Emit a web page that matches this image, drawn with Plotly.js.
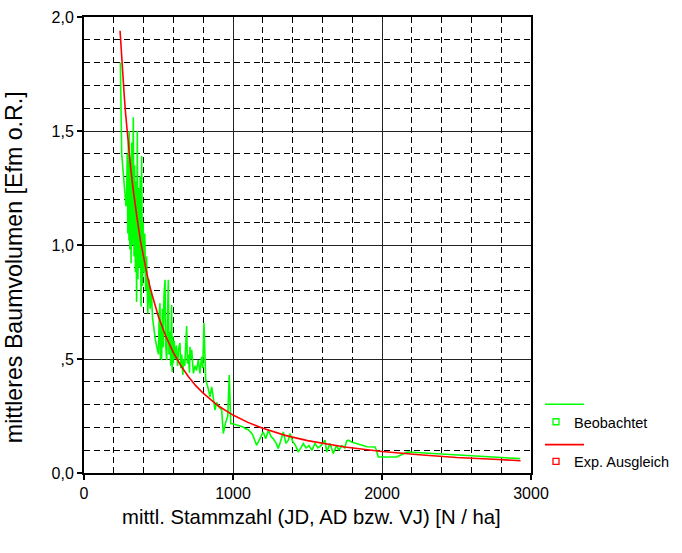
<!DOCTYPE html>
<html>
<head>
<meta charset="utf-8">
<script src="https://cdn.plot.ly/plotly-3.0.1.min.js"></script>
<style>
html,body{margin:0;padding:0;background:#fff;}
#chart{width:682px;height:553px;}
</style>
</head>
<body>
<div id="chart"></div>
<script>
// Observed values (Beobachtet)
const obsX = [244,248,253,258,264,270,276,282,286,290,294,298,302,304,308,312,316,320,324,328,331,336,340,345,350,353,358,362,367,372,377,383,387,392,397,402,408,414,420,428,436,444,452,
  460,470,480,490,500,505,510,513,518,521,526,531,537,544,548,555,560,566,570,576,582,588,592,596,599,605,612,620,628,636,644,650,656,663,670,676,683,689,694,700,708,711,716,723,734,745,755,767,778,789,797,805,817,830,846,857,868,879,890,905,924,935,950,965,975,985,1002,1030,1069,1081,1103,1130,1159,1180,1203,1220,1237,1255,1270,1290,1304,1320,1338,1355,1371,1383,1400,1420,1438,1455,1472,1490,1510,1530,1550,1570,1590,1617,1629,1640,1651,1673,1695,1710,1730,1750,1763,1774,1800,1850,1900,1953,1963,1975,1998,2040,2098,2130,2170,2926];
const obsY = [1.80,1.60,1.40,1.36,1.30,1.25,1.22,1.17,1.19,1.40,1.05,1.45,1.02,1.50,0.98,1.38,0.92,1.45,1.00,1.20,1.56,0.95,1.35,0.88,1.28,0.75,1.50,0.85,1.25,0.90,1.30,0.73,1.39,0.82,1.10,0.88,1.05,0.80,0.95,0.70,0.85,0.72,0.80,
  0.68,0.62,0.58,0.55,0.52,0.70,0.745,0.50,0.65,0.495,0.72,0.55,0.78,0.847,0.56,0.495,0.66,0.847,0.52,0.62,0.47,0.737,0.444,0.60,0.48,0.58,0.50,0.56,0.47,0.55,0.57,0.46,0.52,0.43,0.50,0.47,0.56,0.645,0.48,0.52,0.44,0.554,0.50,0.54,0.437,0.47,0.45,0.495,0.437,0.51,0.46,0.657,0.408,0.38,0.334,0.378,0.33,0.276,0.31,0.29,0.276,0.173,0.22,0.25,0.43,0.217,0.215,0.21,0.202,0.195,0.19,0.17,0.122,0.15,0.18,0.15,0.188,0.16,0.15,0.13,0.107,0.14,0.18,0.13,0.144,0.173,0.14,0.12,0.092,0.11,0.129,0.11,0.12,0.10,0.13,0.11,0.12,0.144,0.092,0.11,0.129,0.085,0.122,0.10,0.12,0.11,0.141,0.144,0.135,0.125,0.115,0.114,0.10,0.070,0.070,0.072,0.070,0.080,0.092,0.063];

// Fitted values (Exp. Ausgleich)
const fitX = [242,250,260,270,280,290,300,315,330,345,360,380,400,425,450,475,500,550,600,650,700,750,800,900,1000,1100,1200,1350,1500,1750,2000,2250,2500,2750,2930];
const fitY = [1.94,1.85,1.75,1.656,1.57,1.495,1.425,1.328,1.243,1.166,1.10,1.015,0.942,0.865,0.797,0.738,0.685,0.598,0.528,0.471,0.423,0.383,0.350,0.295,0.254,0.222,0.196,0.165,0.142,0.114,0.094,0.080,0.068,0.060,0.054];

const yTickVals = [0, 0.5, 1.0, 1.5, 2.0];
const yTickText = ["0,0", ",5", "1,0", "1,5", "2,0"];
const xTickVals = [0, 1000, 2000, 3000];
const xTickText = ["0", "1000", "2000", "3000"];
const seriesNames = ["Beobachtet", "Exp. Ausgleich"];
const seriesColors = ["#00ff00", "#ff0000"];
const xTitle = 'mittl. Stammzahl (JD, AD bzw. VJ) [N / ha]';
const yTitle = 'mittleres Baumvolumen [Efm o.R.]';

const FONT = "Liberation Sans, Arial, sans-serif";

const traces = [
  {x: obsX, y: obsY, type: 'scatter', mode: 'lines', name: seriesNames[0],
   line: {color: seriesColors[0], width: 1.6}},
  {x: fitX, y: fitY, type: 'scatter', mode: 'lines', name: seriesNames[1],
   line: {color: seriesColors[1], width: 1.6}}
];

// helpers for placement in paper coords
const L = 84, R = 531, T = 17, B = 472.7;
const px = v => (v - L) / (R - L);
const py = v => (B - v) / (B - T);

const shapes = [];
const annotations = [];
const legendRows = [{lineY: 404, boxY: 421.5}, {lineY: 444.3, boxY: 461}];
legendRows.forEach((r, i) => {
  shapes.push({type: 'line', xref: 'paper', yref: 'paper', x0: px(545), x1: px(584), y0: py(r.lineY), y1: py(r.lineY),
    line: {color: seriesColors[i], width: 1.6}});
  shapes.push({type: 'rect', xref: 'paper', yref: 'paper', x0: px(553), x1: px(559), y0: py(r.boxY + 3), y1: py(r.boxY - 3),
    line: {color: seriesColors[i], width: 1.3}, fillcolor: 'rgba(0,0,0,0)'});
  annotations.push({xref: 'paper', yref: 'paper', x: px(572), y: py(r.boxY + 1), xanchor: 'left', yanchor: 'middle',
    text: seriesNames[i], showarrow: false, font: {family: FONT, size: 14.5, color: '#000'}});
});
// axis titles
annotations.push({xref: 'paper', yref: 'paper', x: px(311.5), y: py(517), xanchor: 'center', yanchor: 'middle',
  text: xTitle, showarrow: false, font: {family: FONT, size: 20.3, color: '#000'}});
annotations.push({xref: 'paper', yref: 'paper', x: px(14), y: py(267), xanchor: 'center', yanchor: 'middle', textangle: -90,
  text: yTitle, showarrow: false, font: {family: FONT, size: 23.2, color: '#000'}});

const layout = {
  width: 682, height: 553,
  margin: {l: L, r: 682 - R, t: T, b: 553 - B},
  paper_bgcolor: '#fff', plot_bgcolor: '#fff',
  showlegend: false,
  font: {family: FONT, size: 16, color: '#000'},
  xaxis: {
    range: [0, 3000], tickvals: xTickVals, ticktext: xTickText,
    showline: true, linecolor: '#000', linewidth: 2, mirror: true,
    ticks: 'outside', ticklen: 5, tickcolor: '#000', tickwidth: 1.5,
    showgrid: true, gridcolor: '#222', gridwidth: 1,
    zeroline: false,
    minor: {dtick: 200, showgrid: true, gridcolor: '#000', gridwidth: 1, griddash: '6px,4px', ticks: ''},
    tickfont: {family: FONT, size: 16}
  },
  yaxis: {
    range: [0, 2.0], tickvals: yTickVals, ticktext: yTickText,
    showline: true, linecolor: '#000', linewidth: 2, mirror: true,
    ticks: 'outside', ticklen: 5, tickcolor: '#000', tickwidth: 1.5,
    showgrid: true, gridcolor: '#222', gridwidth: 1,
    zeroline: false,
    minor: {dtick: 0.1, showgrid: true, gridcolor: '#000', gridwidth: 1, griddash: '6px,4px', ticks: ''},
    tickfont: {family: FONT, size: 16}
  },
  shapes: shapes,
  annotations: annotations
};

Plotly.newPlot('chart', traces, layout, {staticPlot: true, displayModeBar: false});
</script>
</body>
</html>
